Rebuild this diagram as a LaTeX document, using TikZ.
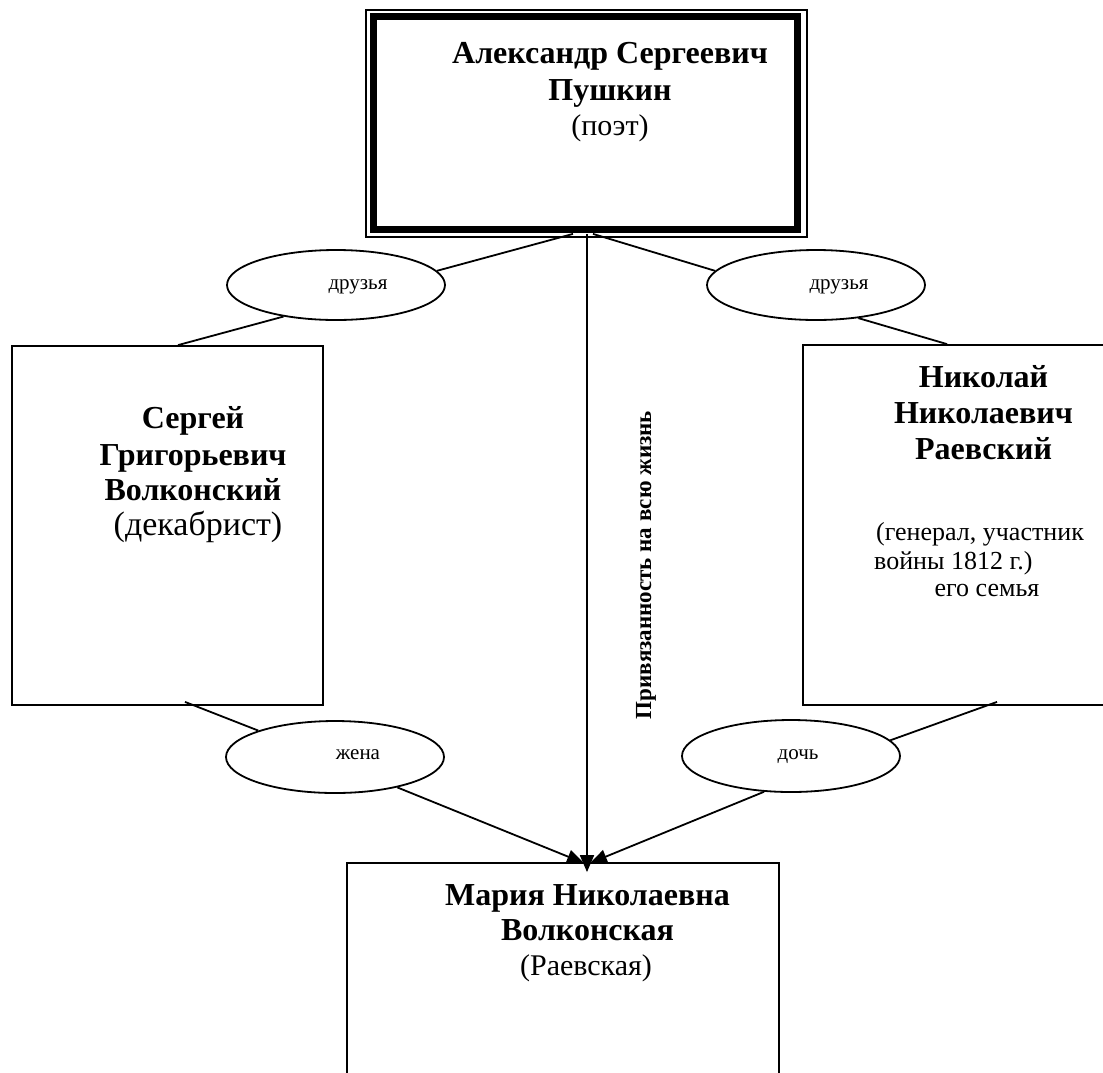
\documentclass[tikz,border=0pt]{standalone}
\usepackage{fontspec}
\setmainfont{Liberation Serif}
\usetikzlibrary{shapes.geometric,arrows.meta}
\begin{document}
\begin{tikzpicture}[x=1pt,y=-1pt,
  box/.style={draw, rectangle, line width=1.8pt, inner sep=0pt},
  oval/.style={draw, ellipse, line width=1.8pt, minimum width=218pt, minimum height=70pt, inner sep=0pt},
  conn/.style={line width=1.8pt},
  arr/.style={conn, -{Triangle[length=17pt,width=14pt]}},
  bigb/.style={anchor=base, inner sep=0pt, font=\fontsize{32}{38}\selectfont\bfseries},
  bigr/.style={anchor=base, inner sep=0pt, font=\fontsize{30}{36}\selectfont},
  midr/.style={anchor=base, inner sep=0pt, font=\fontsize{26}{30}\selectfont},
  lbl/.style={anchor=base, inner sep=0pt, font=\fontsize{21}{25}\selectfont},
  vert/.style={inner sep=0pt, rotate=90, font=\fontsize{23}{27}\selectfont\bfseries}
]
\useasboundingbox (0,0) rectangle (1103,1072);
\fill[white] (0,0) rectangle (1103,1072);

% boxes
\node[box, minimum width=441pt, minimum height=227pt] (poet) at (586.5,123.5) {};
\draw[line width=7pt] ([xshift=8pt,yshift=-7.5pt]poet.north west) rectangle ([xshift=-10.5pt,yshift=8.5pt]poet.south east);
\node[box, minimum width=311pt, minimum height=359pt] (volk) at (167.5,525.5) {};
\node[box, minimum width=311pt, minimum height=360pt] (raev) at (958.5,525) {};
\node[box, minimum width=432pt, minimum height=250pt] (mary) at (563,988) {};

% ellipses
\node[oval] (fr1) at (336,285) {};
\node[oval] (fr2) at (816,285) {};
\node[oval, minimum height=72pt] (wife) at (335,757) {};
\node[oval, minimum height=72pt] (dau) at (791,756) {};

% texts
\node[bigb] (p1) at (610,63) {Александр Сергеевич};
\node[bigb] (p2) at (610,100) {Пушкин};
\node[bigr] (p3) at (610,135) {(поэт)};

\node[bigb] (v1) at (193,428) {Сергей};
\node[bigb] (v2) at (193,465) {Григорьевич};
\node[bigb] (v3) at (193,500) {Волконский};
\node[bigr, font=\fontsize{34}{40}\selectfont] (v4) at (198,535) {(декабрист)};

\node[bigb] (r1) at (983.5,387) {Николай};
\node[bigb] (r2) at (983.5,423) {Николаевич};
\node[bigb] (r3) at (983.5,459) {Раевский};
\node[midr, anchor=base west] (r4) at (876,540) {(генерал, участник};
\node[midr, anchor=base west] (r5) at (874,569) {войны 1812 г.)};
\node[midr] (r6) at (987,596) {его семья};

\node[bigb] (m1) at (587.5,905) {Мария Николаевна};
\node[bigb] (m2) at (587.5,940) {Волконская};
\node[bigr] (m3) at (586,975) {(Раевская)};

\node[lbl] (t1) at (358,289) {друзья};
\node[lbl] (t2) at (839,289) {друзья};
\node[lbl] (t3) at (358,759) {жена};
\node[lbl] (t4) at (798,759) {дочь};

\node[vert] (life) at (646,565) {Привязанность на всю жизнь};

% connectors
\draw[conn] ([xshift=-13.5pt,yshift=4pt]poet.south) -- (fr1.8);
\draw[conn] ([xshift=6.5pt,yshift=4pt]poet.south) -- (fr2.172);
\draw[conn] (fr1.211) -- ([xshift=10.5pt]volk.north);
\draw[conn] (fr2.322) -- ([xshift=-11.5pt]raev.north);
\draw[conn] ([xshift=17.5pt,yshift=4pt]volk.south) -- (wife.161);
\draw[conn] ([xshift=38.5pt,yshift=4pt]raev.south) -- (dau.9);
\draw[arr] ([xshift=0.5pt,yshift=4pt]poet.south) -- ([xshift=24pt,yshift=-10pt]mary.north);
\draw[arr] (wife.334) -- ([xshift=21pt,yshift=-1pt]mary.north);
\draw[arr] (dau.233) -- ([xshift=27pt,yshift=-1pt]mary.north);
\end{tikzpicture}
\end{document}
